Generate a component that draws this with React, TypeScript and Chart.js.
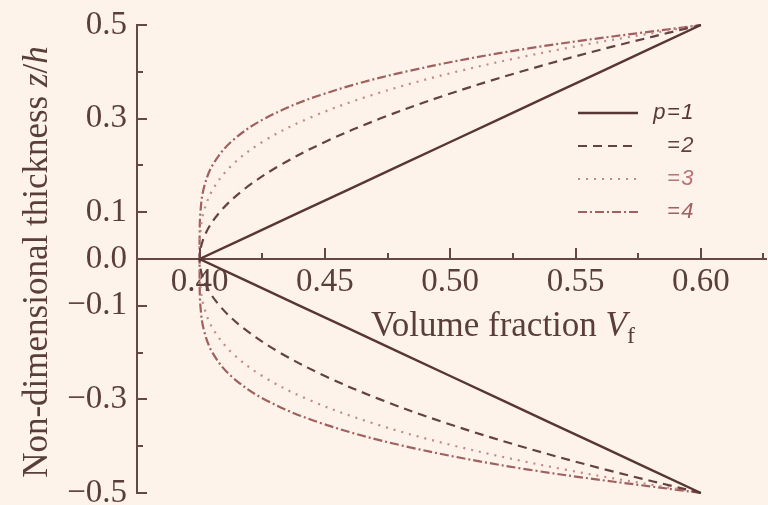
import { useEffect, useRef } from "react";
import { Chart, registerables } from "chart.js";

Chart.register(...registerables);

// Through-thickness coordinate z/h shared by every curve
const Z = [
  -0.5, -0.45, -0.4, -0.35, -0.3, -0.25, -0.2, -0.15, -0.1, -0.05, 0,
  0.05, 0.1, 0.15, 0.2, 0.25, 0.3, 0.35, 0.4, 0.45, 0.5,
];

// Volume fraction Vf at each z/h, one array per exponent p
const VF_P1 = [
  0.6, 0.58, 0.56, 0.54, 0.52, 0.5, 0.48, 0.46, 0.44, 0.42, 0.4,
  0.42, 0.44, 0.46, 0.48, 0.5, 0.52, 0.54, 0.56, 0.58, 0.6,
];
const VF_P2 = [
  0.6, 0.562, 0.528, 0.498, 0.472, 0.45, 0.432, 0.418, 0.408, 0.402, 0.4,
  0.402, 0.408, 0.418, 0.432, 0.45, 0.472, 0.498, 0.528, 0.562, 0.6,
];
const VF_P3 = [
  0.6, 0.5458, 0.5024, 0.4686, 0.4432, 0.425, 0.4128, 0.4054, 0.4016, 0.4002, 0.4,
  0.4002, 0.4016, 0.4054, 0.4128, 0.425, 0.4432, 0.4686, 0.5024, 0.5458, 0.6,
];
const VF_P4 = [
  0.6, 0.5312, 0.4819, 0.448, 0.4259, 0.4125, 0.4051, 0.4016, 0.4003, 0.4, 0.4,
  0.4, 0.4003, 0.4016, 0.4051, 0.4125, 0.4259, 0.448, 0.4819, 0.5312, 0.6,
];

const SERIES_LABELS = ["p=1", "=2", "=3", "=4"];

const X_LABEL_TICKS = [0.4, 0.45, 0.5, 0.55, 0.6];
const X_MINOR_TICKS = [0.425, 0.475, 0.525, 0.575, 0.625];
const Y_LABEL_TICKS = [-0.5, -0.3, -0.1, 0, 0.1, 0.3, 0.5];
const Y_MAJOR_MARKS = [-0.5, -0.3, -0.1, 0.1, 0.3, 0.5];
const Y_MINOR_MARKS = [-0.4, -0.2, 0.2, 0.4];

const BG = "#fdf3ea";
const INK = "#5a3e3a";
const AXIS = "#654844";
const SERIF = '"Liberation Serif", "Times New Roman", serif';
const SANS = '"Liberation Sans", Arial, sans-serif';

const STYLES = [
  { color: "#573633", width: 2.4, dash: [] as number[], tension: 0 },
  { color: "#634240", width: 2.2, dash: [9, 6], tension: 0.35 },
  { color: "#c48887", width: 2.2, dash: [2, 6], tension: 0.35 },
  { color: "#a0605d", width: 2.2, dash: [9, 3, 2, 3], tension: 0.35 },
];
const LABEL_COLORS = ["#573633", "#634240", "#b87472", "#a0605d"];

type Run = { t: string; f: string; dy: number };

function runWidth(ctx: CanvasRenderingContext2D, runs: Run[]) {
  let w = 0;
  for (const r of runs) {
    ctx.font = r.f;
    w += ctx.measureText(r.t).width;
  }
  return w;
}

function drawRuns(ctx: CanvasRenderingContext2D, runs: Run[], x: number, y: number) {
  let cx = x;
  for (const r of runs) {
    ctx.font = r.f;
    ctx.fillText(r.t, cx, y + r.dy);
    cx += ctx.measureText(r.t).width;
  }
}

const backgroundPlugin = {
  id: "paperBackground",
  beforeDraw(chart: any) {
    const { ctx, width, height } = chart;
    ctx.save();
    ctx.fillStyle = BG;
    ctx.fillRect(0, 0, width, height);
    ctx.restore();
  },
};

// Inward tick marks on both axes
const tickMarksPlugin = {
  id: "inwardTicks",
  afterDraw(chart: any) {
    const { ctx, chartArea } = chart;
    const xs = chart.scales.x;
    const ys = chart.scales.y;
    const y0 = ys.getPixelForValue(0);
    ctx.save();
    ctx.strokeStyle = AXIS;
    ctx.lineWidth = 2;
    ctx.setLineDash([]);
    ctx.beginPath();
    for (const v of X_LABEL_TICKS) {
      const px = Math.round(xs.getPixelForValue(v));
      ctx.moveTo(px, y0);
      ctx.lineTo(px, y0 - 11);
    }
    for (const v of X_MINOR_TICKS) {
      const px = Math.round(xs.getPixelForValue(v));
      ctx.moveTo(px, y0);
      ctx.lineTo(px, y0 - 6);
    }
    for (const v of Y_MAJOR_MARKS) {
      const py = Math.round(ys.getPixelForValue(v));
      ctx.moveTo(chartArea.left, py);
      ctx.lineTo(chartArea.left + 10, py);
    }
    for (const v of Y_MINOR_MARKS) {
      const py = Math.round(ys.getPixelForValue(v));
      ctx.moveTo(chartArea.left, py);
      ctx.lineTo(chartArea.left + 6, py);
    }
    ctx.stroke();
    ctx.restore();
  },
};

// Axis titles with italic symbols and subscript
const titlesPlugin = {
  id: "axisTitles",
  afterDraw(chart: any) {
    const ctx: CanvasRenderingContext2D = chart.ctx;
    ctx.save();
    ctx.fillStyle = INK;
    ctx.textBaseline = "alphabetic";
    ctx.textAlign = "left";
    const xRuns: Run[] = [
      { t: "Volume fraction ", f: `35px ${SERIF}`, dy: 0 },
      { t: "V", f: `italic 35px ${SERIF}`, dy: 0 },
      { t: "f", f: `24px ${SERIF}`, dy: 7 },
    ];
    drawRuns(ctx, xRuns, 371, 336);

    const yRuns: Run[] = [
      { t: "Non-dimensional thickness ", f: `35px ${SERIF}`, dy: 0 },
      { t: "z", f: `italic 35px ${SERIF}`, dy: 0 },
      { t: "/", f: `35px ${SERIF}`, dy: 0 },
      { t: "h", f: `italic 35px ${SERIF}`, dy: 0 },
    ];
    const w = runWidth(ctx, yRuns);
    ctx.translate(47, 0);
    ctx.rotate(-Math.PI / 2);
    drawRuns(ctx, yRuns, -(262 + w / 2), 0);
    ctx.restore();
  },
};

// Legend: line samples with right-aligned italic labels
const legendPlugin = {
  id: "lineLegend",
  afterDraw(chart: any) {
    const ctx: CanvasRenderingContext2D = chart.ctx;
    const rows = [113, 146, 179, 212];
    ctx.save();
    chart.data.datasets.forEach((ds: any, i: number) => {
      const y = rows[i];
      ctx.strokeStyle = ds.borderColor;
      ctx.lineWidth = ds.borderWidth;
      ctx.setLineDash(ds.borderDash || []);
      ctx.beginPath();
      ctx.moveTo(578, y);
      ctx.lineTo(638, y);
      ctx.stroke();
      ctx.setLineDash([]);
      ctx.fillStyle = LABEL_COLORS[i];
      ctx.font = `italic 22px ${SANS}`;
      (ctx as any).letterSpacing = "1.5px";
      ctx.textAlign = "right";
      ctx.textBaseline = "middle";
      ctx.fillText(ds.label, 695, y);
    });
    ctx.restore();
  },
};

export default function App() {
  const canvasRef = useRef<HTMLCanvasElement | null>(null);

  useEffect(() => {
    const canvas = canvasRef.current;
    if (!canvas) return;
    const series = [VF_P1, VF_P2, VF_P3, VF_P4];
    const chart = new Chart(canvas, {
      type: "scatter",
      data: {
        datasets: series.map((vf, i) => ({
          label: SERIES_LABELS[i],
          data: Z.map((z, k) => ({ x: vf[k], y: z })),
          showLine: true,
          borderColor: STYLES[i].color,
          borderWidth: STYLES[i].width,
          borderDash: STYLES[i].dash,
          tension: STYLES[i].tension,
          pointRadius: 0,
          pointHoverRadius: 0,
          fill: false,
          clip: false as any,
        })),
      },
      options: {
        animation: false,
        responsive: false,
        devicePixelRatio: 1,
        events: [],
        layout: { padding: { left: 0, right: 2, top: 25, bottom: 12 } },
        plugins: {
          legend: { display: false },
          tooltip: { enabled: false },
          title: { display: false },
        },
        scales: {
          x: {
            type: "linear",
            min: 0.375,
            max: 0.626,
            position: { y: 0 } as any,
            grid: { display: true, drawOnChartArea: false, drawTicks: false },
            border: { display: true, color: AXIS, width: 2 },
            afterBuildTicks: (s: any) => {
              s.ticks = X_LABEL_TICKS.map((v) => ({ value: v }));
            },
            afterFit: (s: any) => {
              s.paddingLeft = 0;
              s.paddingRight = 0;
            },
            ticks: {
              autoSkip: false,
              maxRotation: 0,
              padding: 4,
              color: INK,
              font: { family: SERIF, size: 33 },
              callback: (v: any) => Number(v).toFixed(2),
            },
          },
          y: {
            type: "linear",
            min: -0.5,
            max: 0.5,
            position: "left",
            grid: { display: true, drawOnChartArea: false, drawTicks: false },
            border: { display: true, color: AXIS, width: 2 },
            afterBuildTicks: (s: any) => {
              s.ticks = Y_LABEL_TICKS.map((v) => ({ value: v }));
            },
            afterFit: (s: any) => {
              s.width = 137;
              s.paddingTop = 0;
              s.paddingBottom = 0;
            },
            ticks: {
              autoSkip: false,
              padding: 10,
              color: INK,
              font: { family: SERIF, size: 33 },
              callback: (v: any) => {
                const n = Number(v);
                const s = Math.abs(n).toFixed(1);
                return n < 0 ? "\u2212" + s : s;
              },
            },
          },
        },
      },
      plugins: [backgroundPlugin, tickMarksPlugin, titlesPlugin, legendPlugin],
    });
    return () => chart.destroy();
  }, []);

  return (
    <div
      style={{
        position: "absolute",
        left: 0,
        top: 0,
        width: 768,
        height: 505,
        background: BG,
      }}
    >
      <canvas ref={canvasRef} width={768} height={505} style={{ display: "block" }} />
    </div>
  );
}
